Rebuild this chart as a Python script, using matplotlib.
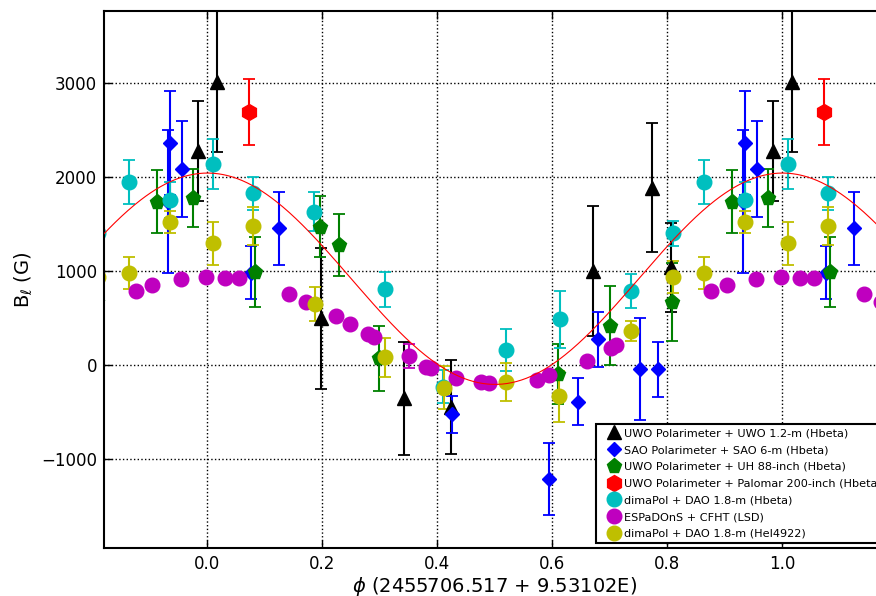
import numpy as np
import matplotlib
matplotlib.use("Agg")
import matplotlib.pyplot as plt
from matplotlib.lines import Line2D

# UWO Polarimeter + UWO 1.2-m (Hbeta)
uwo12_phase = [0.017, 0.198, 0.341, 0.424, 0.670, 0.773, 0.806, 0.984]
uwo12_b = [3017, 497, -355, -444, 1004, 1890, 1040, 2282]
uwo12_err = [750, 750, 600, 500, 690, 690, 470, 530]

# SAO Polarimeter + SAO 6-m (Hbeta)
sao_phase = [0.076, 0.124, 0.426, 0.594, 0.645, 0.679, 0.753, 0.784, 0.931, 0.934, 0.956]
sao_b = [985, 1458, -522, -1214, -391, 275, -43, -46, 1740, 2367, 2090]
sao_err = [280, 390, 195, 380, 250, 295, 540, 290, 760, 554, 510]

# UWO Polarimeter + UH 88-inch (Hbeta)
uh88_phase = [0.082, 0.195, 0.228, 0.299, 0.610, 0.700, 0.807, 0.912, 0.974]
uh88_b = [990, 1473, 1278, 71, -90, 419, 674, 1742, 1778]
uh88_err = [370, 325, 330, 350, 320, 420, 415, 337, 310]

# UWO Polarimeter + Palomar 200-inch (Hbeta)
pal_phase = [0.073]
pal_b = [2698]
pal_err = [350]

# dimaPol + DAO 1.8-m (Hbeta)
dao_hb_phase = [0.009, 0.079, 0.186, 0.308, 0.409, 0.519, 0.613, 0.736, 0.809, 0.863, 0.934]
dao_hb_b = [2141, 1828, 1633, 806, -231, 160, 487, 788, 1402, 1952, 1757]
dao_hb_err = [270, 175, 210, 185, 175, 220, 300, 178, 130, 237, 195]

# ESPaDOnS + CFHT (LSD)
esp_phase = [0.031, 0.054, 0.141, 0.172, 0.224, 0.248, 0.279, 0.290, 0.350, 0.380,
             0.388, 0.432, 0.475, 0.490, 0.573, 0.594, 0.660, 0.702, 0.711, 0.876,
             0.904, 0.954, 0.998]
esp_b = [930, 930, 756, 674, 522, 433, 327, 295, 96, -15,
         -35, -135, -178, -195, -160, -106, 46, 178, 213, 788,
         852, 912, 940]
esp_err = [25, 25, 25, 25, 25, 25, 25, 25, 130, 25,
           25, 25, 25, 25, 25, 25, 25, 25, 25, 25,
           25, 25, 25]

# dimaPol + DAO 1.8-m (HeI4922)
dao_he_phase = [0.009, 0.079, 0.187, 0.308, 0.411, 0.519, 0.612, 0.736, 0.809, 0.863, 0.935]
dao_he_b = [1296, 1480, 650, 82, -238, -178, -330, 365, 937, 977, 1520]
dao_he_err = [233, 200, 180, 210, 230, 200, 270, 105, 170, 170, 117]

# dipole fit: B0 + B1 cos(2 pi phi)
fit_b0 = 920
fit_b1 = 1125

series = [
    ("UWO Polarimeter + UWO 1.2-m (Hbeta)", uwo12_phase, uwo12_b, uwo12_err, "k", "^", 10),
    ("SAO Polarimeter + SAO 6-m (Hbeta)", sao_phase, sao_b, sao_err, "b", "D", 7.5),
    ("UWO Polarimeter + UH 88-inch (Hbeta)", uh88_phase, uh88_b, uh88_err, "g", "p", 11),
    ("UWO Polarimeter + Palomar 200-inch (Hbeta)", pal_phase, pal_b, pal_err, "r", "h", 11.5),
    ("dimaPol + DAO 1.8-m (Hbeta)", dao_hb_phase, dao_hb_b, dao_hb_err, "c", "o", 10.5),
    ("ESPaDOnS + CFHT (LSD)", esp_phase, esp_b, esp_err, "m", "o", 10.5),
    ("dimaPol + DAO 1.8-m (HeI4922)", dao_he_phase, dao_he_b, dao_he_err, "y", "o", 10.5),
]

fig = plt.figure(figsize=(8.76, 5.96), dpi=100)
ax = fig.add_axes([0.1187, 0.0800, 0.8927, 0.9015])

handles = []
for label, ph, b, err, col, mk, ms in series:
    ph = np.asarray(ph)
    # repeat each point one cycle either side so the phase plot wraps
    x = np.concatenate([ph - 1, ph, ph + 1])
    y = np.tile(b, 3)
    e = np.tile(err, 3)
    ax.errorbar(x, y, yerr=e, fmt=mk, color=col, mec=col, ms=ms,
                elinewidth=1.5, capsize=4, capthick=1.3, ecolor=col)
    handles.append(Line2D([], [], ls="none", marker=mk, color=col, mec=col,
                          ms=ms, label=label))

phi = np.linspace(-0.2, 1.2, 500)
ax.plot(phi, fit_b0 + fit_b1 * np.cos(2 * np.pi * phi), color="r", lw=0.8, zorder=5)

ax.set_xlim(-0.18, 1.18)
ax.set_ylim(-1950, 3770)
ax.set_xticks([0.0, 0.2, 0.4, 0.6, 0.8, 1.0])
ax.set_yticks([-1000, 0, 1000, 2000, 3000])
ax.grid(True, color="k", ls=":", lw=1)
ax.tick_params(direction="in", length=6, width=1, top=True, right=True,
               labelsize=12, pad=5)
for sp in ax.spines.values():
    sp.set_linewidth(1.5)

ax.set_xlabel(r"$\phi$ (2455706.517 + 9.53102E)", fontsize=14, labelpad=1)
ax.set_ylabel(r"B$_\ell$ (G)", fontsize=14)

leg = ax.legend(handles=handles, loc="lower right", bbox_to_anchor=(1.007, 0),
                fontsize=8.1, numpoints=1, fancybox=False, framealpha=1,
                edgecolor="k", borderpad=0.4, handlelength=2.27,
                handletextpad=-0.2, labelspacing=0.6, borderaxespad=0.45)
leg.get_frame().set_linewidth(1.5)

fig.savefig("out.png", dpi=100)
